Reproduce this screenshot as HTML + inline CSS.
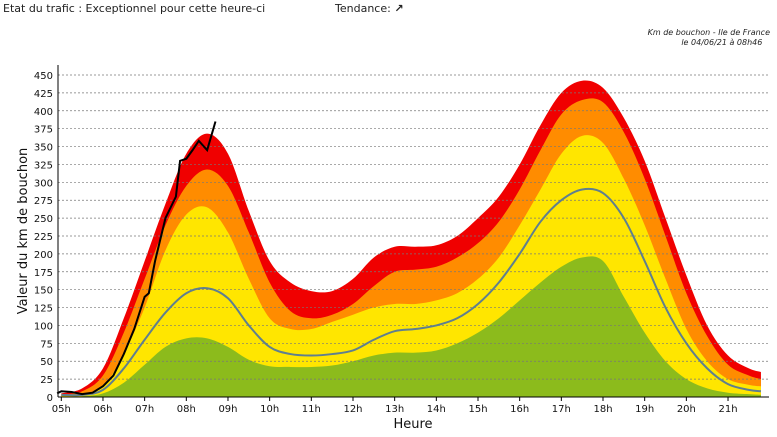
<!DOCTYPE html>
<html><head><meta charset="utf-8"><style>
body{margin:0;background:#fff;width:777px;height:437px;overflow:hidden;font-family:"DejaVu Sans","Liberation Sans",sans-serif}
.t{position:absolute;font-size:11px;color:#222}
</style></head><body>
<div class="t" style="left:3px;top:2px">Etat du trafic : Exceptionnel pour cette heure-ci</div>
<div class="t" style="left:335px;top:2px">Tendance: <b>&#x2197;</b></div>
<div class="t" style="left:600px;top:28px;width:170px;text-align:right;font-size:8px;font-style:italic;line-height:10px">Km de bouchon - Ile de France<br>le 04/06/21 à 08h46&nbsp;&nbsp;&nbsp;</div>
<svg id="c" width="777" height="437" style="position:absolute;left:0;top:0"></svg>
<script>
const hours=[5,5.5,6,6.5,7,7.5,8,8.5,9,9.5,10,10.5,11,11.5,12,12.5,13,13.5,14,14.5,15,15.5,16,16.5,17,17.5,18,18.5,19,19.5,20,20.5,21,21.5,21.79];
const red=[5,12,40,110,190,270,340,368,340,260,190,160,148,148,165,195,210,210,212,225,250,280,325,380,425,442,432,390,330,250,170,100,58,40,35];
const orange=[3,8,30,90,165,240,295,318,295,230,160,120,110,115,130,155,175,178,182,195,215,245,290,345,395,415,412,370,305,225,145,85,45,30,25];
const yellow=[2,4,15,60,125,205,255,265,230,165,110,95,95,105,115,125,130,130,135,145,165,195,240,290,340,365,355,305,240,165,95,50,25,17,15];
const green=[0,1,5,20,45,70,82,82,70,52,43,42,42,44,50,58,62,62,65,75,90,110,135,160,182,195,190,140,90,50,25,12,6,4,3];
const mean=[3,3,10,40,80,118,145,152,138,100,70,60,58,60,65,80,92,95,100,110,130,160,200,245,275,290,285,250,190,125,75,40,18,10,8];
const nowH=[4.9,5,5.25,5.5,5.75,6,6.25,6.5,6.75,7,7.1,7.25,7.5,7.75,7.85,8,8.15,8.3,8.5,8.6,8.7];
const nowV=[5,8,7,4,6,15,30,60,95,140,145,190,250,280,330,333,345,358,345,365,385];
const yTicks=[0,25,50,75,100,125,150,175,200,225,250,275,300,325,350,375,400,425,450];
const xTicks=["05h","06h","07h","08h","09h","10h","11h","12h","13h","14h","15h","16h","17h","18h","19h","20h","21h"];
const X=h=>61.3+(h-5)*41.67, Y=v=>397-v*(322/450);
const svg=document.getElementById('c'),NS='http://www.w3.org/2000/svg';
function mk(t,a){const e=document.createElementNS(NS,t);for(const k in a)e.setAttribute(k,a[k]);svg.appendChild(e);return e;}
function path(xs,vs){const p=xs.map((h,i)=>[X(h),Y(vs[i])]);let d='M'+p[0][0]+','+p[0][1];
for(let i=0;i<p.length-1;i++){const p0=p[i-1]||p[i],p1=p[i],p2=p[i+1],p3=p[i+2]||p2;
d+=` C${p1[0]+(p2[0]-p0[0])/6},${p1[1]+(p2[1]-p0[1])/6} ${p2[0]-(p3[0]-p1[0])/6},${p2[1]-(p3[1]-p1[1])/6} ${p2[0]},${p2[1]}`;}return d;}
function area(vs,col,name){const e=mk('path',{d:path(hours,vs)+` L${X(hours[hours.length-1])},${Y(0)} L${X(hours[0])},${Y(0)} Z`,fill:col});

}
area(red,'#f00000','red-band');area(orange,'#ff8c00','orange-band');area(yellow,'#ffe600','yellow-band');area(green,'#8cbb1c','green-band');
yTicks.forEach(v=>{if(v>0){const g=mk('line',{x1:58,x2:769,y1:Y(v),y2:Y(v),stroke:'#777','stroke-width':0.7,'stroke-dasharray':'2,2'});

}
const t=mk('text',{x:53,y:Y(v)+4,'text-anchor':'end','font-size':10,fill:'#111'});t.textContent=v;

});
xTicks.forEach((s,i)=>{mk('line',{x1:X(5+i),x2:X(5+i),y1:397,y2:401,stroke:'#000'});
const t=mk('text',{x:X(5+i),y:412,'text-anchor':'middle','font-size':10,fill:'#111'});t.textContent=s;

});
const m=mk('path',{d:path(hours,mean),fill:'none',stroke:'#5f7f8f','stroke-width':2});


const nl=mk('polyline',{points:nowH.map((h,i)=>X(h)+','+Y(nowV[i])).join(' '),fill:'none',stroke:'#000','stroke-width':2});


mk('line',{x1:58,x2:58,y1:65,y2:397,stroke:'#000'});
mk('line',{x1:58,x2:769,y1:397,y2:397,stroke:'#000'});
const xt=mk('text',{x:413,y:428,'text-anchor':'middle','font-size':13,fill:'#111'});xt.textContent='Heure';


const yt=mk('text',{x:0,y:0,transform:'translate(27,231) rotate(-90)','text-anchor':'middle','font-size':13,fill:'#111'});yt.textContent='Valeur du  km de bouchon';


</script>
</body></html>
